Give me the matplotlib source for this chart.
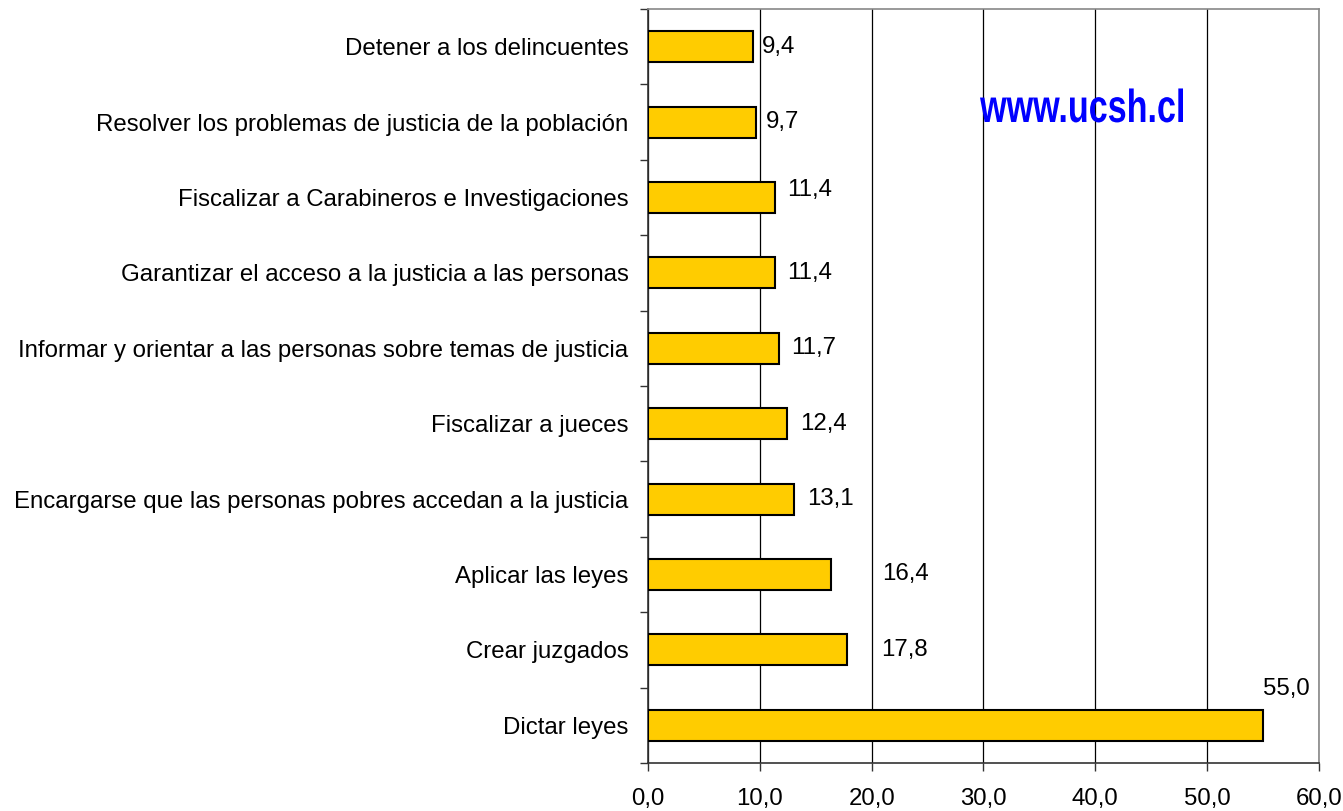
import matplotlib.pyplot as plt
from matplotlib.ticker import FixedLocator, FuncFormatter
from matplotlib.textpath import TextPath
from matplotlib.font_manager import FontProperties
from matplotlib.patches import PathPatch
from matplotlib.transforms import Affine2D

plt.rcParams['font.family'] = ['Liberation Sans', 'DejaVu Sans']

categories = [
    "Detener a los delincuentes",
    "Resolver los problemas de justicia de la población",
    "Fiscalizar a Carabineros e Investigaciones",
    "Garantizar el acceso a la justicia a las personas",
    "Informar y orientar a las personas sobre temas de justicia",
    "Fiscalizar a jueces",
    "Encargarse que las personas pobres accedan a la justicia",
    "Aplicar las leyes",
    "Crear juzgados",
    "Dictar leyes",
]
values = [9.4, 9.7, 11.4, 11.4, 11.7, 12.4, 13.1, 16.4, 17.8, 55.0]
x_ticks = [0, 10, 20, 30, 40, 50, 60]

# label offsets in pixels (Excel placed some labels oddly)
label_dx = [9, 9, 12, 12, 12, 13, 13, 51, 34, 0]
label_dy = [0, 0, 7, 0, 0, 0, 0, 0, 0, 36]

W, H = 1343, 811
fig = plt.figure(figsize=(W / 100, H / 100), dpi=100)
ax = fig.add_axes([0.4825, 0.0592, 0.4996, 0.9297])

pos = list(range(len(categories)))
ax.barh(pos, values, height=0.41, color='#FFCC00', edgecolor='black', linewidth=1.5, zorder=3)

ax.set_xlim(0, 60)
ax.set_ylim(len(categories) - 0.5, -0.5)

ax.xaxis.set_major_locator(FixedLocator(x_ticks))
ax.xaxis.set_major_formatter(FuncFormatter(lambda v, p: f"{v:.1f}".replace('.', ',')))
ax.grid(True, axis='x', color='black', linewidth=0.9, zorder=0)

ax.set_yticks(pos)
ax.set_yticklabels(categories)
ax.set_yticks([p - 0.5 for p in pos] + [len(pos) - 0.5], minor=True)
ax.tick_params(axis='y', which='major', length=0, pad=14, labelsize=17.3)
ax.tick_params(axis='y', which='minor', length=6, width=1, color='#333333')
ax.tick_params(axis='x', length=6, width=1, pad=12, labelsize=17.3, color='#333333')

for s in ['left', 'bottom']:
    ax.spines[s].set_color('#333333')
    ax.spines[s].set_linewidth(1.2)
for s in ['top', 'right']:
    ax.spines[s].set_color('#888888')
    ax.spines[s].set_linewidth(1.2)

for i, v in enumerate(values):
    ax.annotate(f"{v:.1f}".replace('.', ','), xy=(v, i),
                xytext=(label_dx[i] * 0.72, label_dy[i] * 0.72), textcoords='offset points',
                ha='left', va='center', fontsize=17.3)

# watermark: condensed, tall bold text
tp = TextPath((0, 0), "www.ucsh.cl", size=1,
              prop=FontProperties(family='Liberation Sans', weight='bold'))
ext = tp.get_extents()
x0, x1, ytop, ybase = 980, 1183, 88, 122
sx = (x1 - x0) / ext.width / W
sy = (ybase - ytop) / ext.height / H
tr = Affine2D().translate(-ext.x0, 0).scale(sx, sy).translate(x0 / W, (H - ybase) / H) + fig.transFigure
fig.patches.append(PathPatch(tp, transform=tr, facecolor='#0000FF', edgecolor='none'))

fig.savefig('out.png', dpi=100)
